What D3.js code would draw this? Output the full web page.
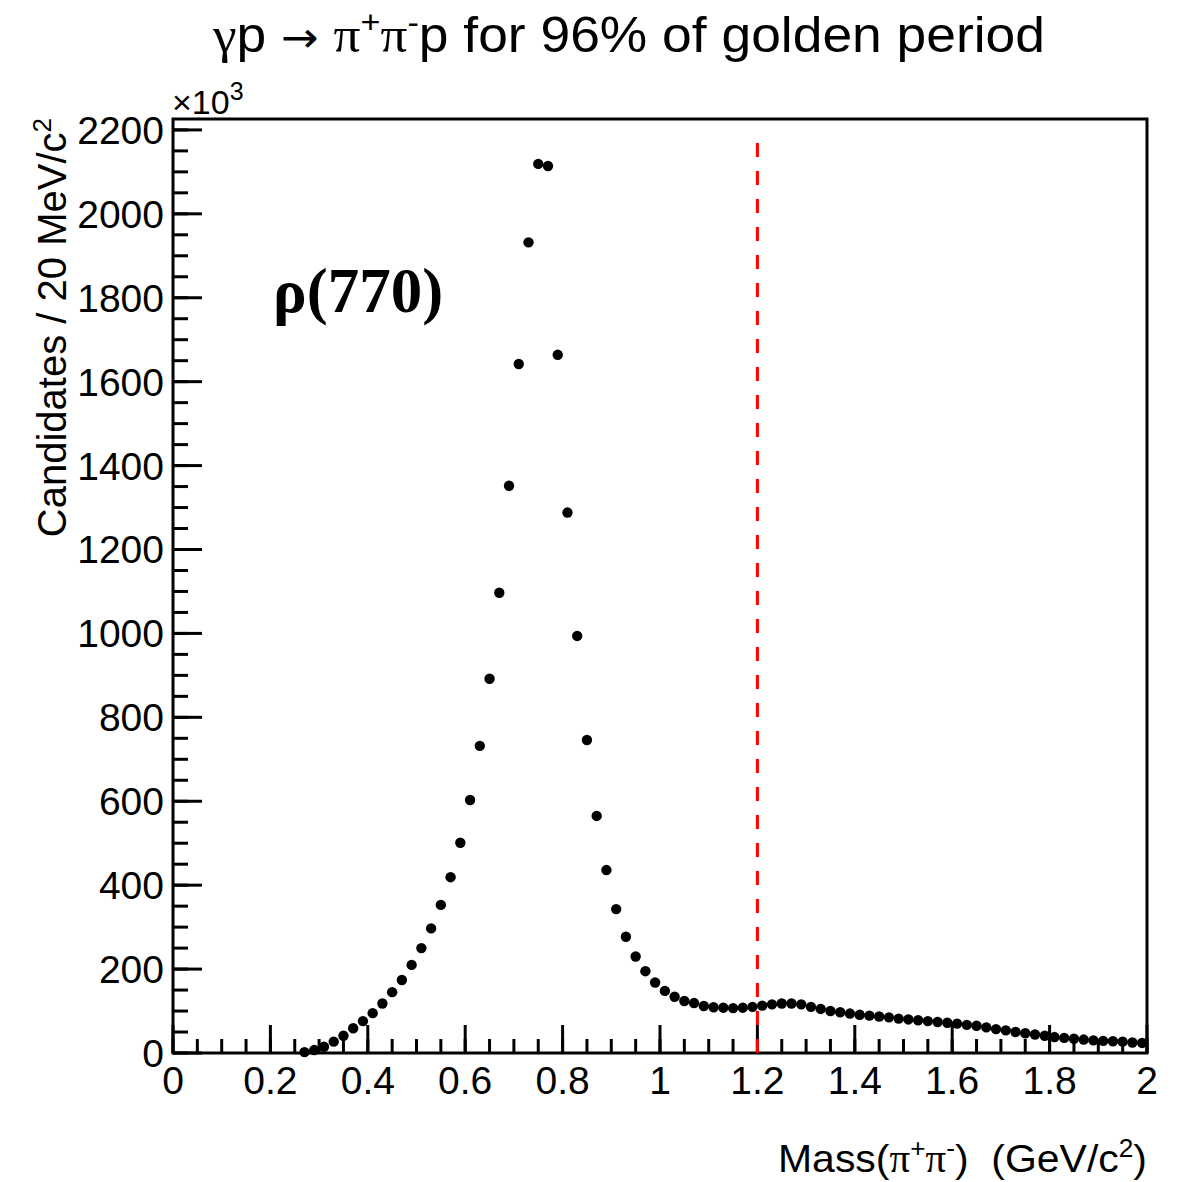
<!DOCTYPE html>
<html>
<head>
<meta charset="utf-8">
<script src="https://cdn.jsdelivr.net/npm/d3@7"></script>
<style>
  html, body { margin: 0; padding: 0; background: #fff; }
  svg { display: block; }
  text { font-family: "Liberation Sans", Arial, Helvetica, sans-serif; fill: #000; white-space: pre; }
  .greek { font-family: "Liberation Serif", "Times New Roman", serif; }
</style>
</head>
<body>
<svg id="chart" width="1184" height="1182"></svg>
<script>
// pi+ pi- invariant mass: bin centres (GeV/c^2) and candidates per 20 MeV/c^2 (x10^3)
const massCenters = [
  0.27, 0.29, 0.31, 0.33, 0.35, 0.37, 0.39, 0.41, 0.43, 0.45,
  0.47, 0.49, 0.51, 0.53, 0.55, 0.57, 0.59, 0.61, 0.63, 0.65,
  0.67, 0.69, 0.71, 0.73, 0.75, 0.77, 0.79, 0.81, 0.83, 0.85,
  0.87, 0.89, 0.91, 0.93, 0.95, 0.97, 0.99, 1.01, 1.03, 1.05,
  1.07, 1.09, 1.11, 1.13, 1.15, 1.17, 1.19, 1.21, 1.23, 1.25,
  1.27, 1.29, 1.31, 1.33, 1.35, 1.37, 1.39, 1.41, 1.43, 1.45,
  1.47, 1.49, 1.51, 1.53, 1.55, 1.57, 1.59, 1.61, 1.63, 1.65,
  1.67, 1.69, 1.71, 1.73, 1.75, 1.77, 1.79, 1.81, 1.83, 1.85,
  1.87, 1.89, 1.91, 1.93, 1.95, 1.97, 1.99
];
const candidates = [
  2, 7, 15, 27, 41, 59, 76, 95, 118, 145,
  174, 210, 250, 297, 353, 419, 501, 603, 732, 892,
  1097, 1352, 1642, 1932, 2119, 2114, 1664, 1288, 994, 746,
  565, 436, 343, 277, 230, 195, 168, 148, 134, 124,
  119, 112, 109, 108, 107, 108, 110, 113, 116, 118,
  118, 116, 110, 105, 100, 97, 94, 91, 89, 87,
  85, 82, 80, 78, 76, 74, 72, 70, 67, 65,
  61, 57, 54, 50, 47, 44, 41, 38, 36, 34,
  32, 30, 29, 28, 27, 25, 24
];
const xTickValues = [0, 0.2, 0.4, 0.6, 0.8, 1, 1.2, 1.4, 1.6, 1.8, 2];
const yTickValues = [0, 200, 400, 600, 800, 1000, 1200, 1400, 1600, 1800, 2000, 2200];
const cutMass = 1.2;

const svg = d3.select("#chart");
const frame = { left: 173, right: 1147, top: 119, bottom: 1053 };

const x = d3.scaleLinear().domain([0, 2]).range([frame.left, frame.right]);
const y = d3.scaleLinear().domain([0, 2226]).range([frame.bottom, frame.top]);

// minor ticks (4 subdivisions per major interval)
const xMinor = d3.range(0, 2.0001, 0.05).map(v => +v.toFixed(2));
const yMinor = d3.range(0, 2200.1, 50);

const gx = svg.append("g").attr("transform", `translate(0,${frame.bottom})`);
gx.selectAll("line.minor").data(xMinor).join("line")
  .attr("x1", d => x(d)).attr("x2", d => x(d))
  .attr("y1", 0).attr("y2", -14)
  .attr("stroke", "#000").attr("stroke-width", 3);
gx.selectAll("line.major").data(xTickValues).join("line")
  .attr("x1", d => x(d)).attr("x2", d => x(d))
  .attr("y1", 0).attr("y2", -28)
  .attr("stroke", "#000").attr("stroke-width", 3);
gx.selectAll("text").data(xTickValues).join("text")
  .attr("x", d => x(d)).attr("y", 41)
  .attr("text-anchor", "middle")
  .style("font-size", "39px")
  .text(d => d3.format("~g")(d));

const gy = svg.append("g").attr("transform", `translate(${frame.left},0)`);
gy.selectAll("line.minor").data(yMinor).join("line")
  .attr("y1", d => y(d)).attr("y2", d => y(d))
  .attr("x1", 0).attr("x2", 15)
  .attr("stroke", "#000").attr("stroke-width", 3);
gy.selectAll("line.major").data(yTickValues).join("line")
  .attr("y1", d => y(d)).attr("y2", d => y(d))
  .attr("x1", 0).attr("x2", 29)
  .attr("stroke", "#000").attr("stroke-width", 3);
gy.selectAll("text").data(yTickValues).join("text")
  .attr("x", -9).attr("y", d => y(d) + 14)
  .attr("text-anchor", "end")
  .style("font-size", "39px")
  .text(d => d);

// frame
svg.append("rect")
  .attr("x", frame.left).attr("y", frame.top)
  .attr("width", frame.right - frame.left).attr("height", frame.bottom - frame.top)
  .attr("fill", "none").attr("stroke", "#000").attr("stroke-width", 3);

// cut line
svg.append("line")
  .attr("x1", x(cutMass)).attr("x2", x(cutMass))
  .attr("y1", y(0)).attr("y2", y(2190))
  .attr("stroke", "#ff0000").attr("stroke-width", 3)
  .attr("stroke-dasharray", "14,14");

// data points
svg.append("g").selectAll("circle").data(massCenters).join("circle")
  .attr("cx", d => x(d))
  .attr("cy", (d, i) => y(candidates[i]))
  .attr("r", 5.2)
  .attr("fill", "#000");

// exponent label
const expo = svg.append("text").attr("x", 172).attr("y", 114).style("font-size", "34px");
expo.append("tspan").text("×10");
expo.append("tspan").attr("dy", -14).style("font-size", "25px").text("3");

// title
const title = svg.append("text").attr("x", 213).attr("y", 52)
  .attr("textLength", 832).attr("lengthAdjust", "spacingAndGlyphs")
  .style("font-size", "50px");
title.append("tspan").attr("class", "greek").text("γ");
title.append("tspan").text("p ");
title.append("tspan").style("font-family", "'DejaVu Sans', sans-serif").style("font-size", "42px").text("→");
title.append("tspan").text(" ");
title.append("tspan").attr("class", "greek").text("π");
title.append("tspan").attr("dy", -19).style("font-size", "32px").text("+");
title.append("tspan").attr("class", "greek").attr("dy", 19).text("π");
title.append("tspan").attr("dy", -19).style("font-size", "32px").text("-");
title.append("tspan").attr("dy", 19).text("p for 96% of golden period");

// x axis title
const xt = svg.append("text").attr("x", 778).attr("y", 1172)
  .attr("textLength", 369).attr("lengthAdjust", "spacingAndGlyphs")
  .style("font-size", "39px");
xt.append("tspan").text("Mass(");
xt.append("tspan").attr("class", "greek").text("π");
xt.append("tspan").attr("dy", -15).style("font-size", "25px").text("+");
xt.append("tspan").attr("class", "greek").attr("dy", 15).text("π");
xt.append("tspan").attr("dy", -15).style("font-size", "25px").text("-");
xt.append("tspan").attr("dy", 15).text(")  (GeV/c");
xt.append("tspan").attr("dy", -15).style("font-size", "25px").text("2");
xt.append("tspan").attr("dy", 15).text(")");

// y axis title
const yt = svg.append("text")
  .attr("transform", "translate(66,118) rotate(-90)")
  .attr("text-anchor", "end").style("font-size", "40px");
yt.append("tspan").text("Candidates / 20 MeV/c");
yt.append("tspan").attr("dy", -15).style("font-size", "26px").text("2");

// resonance label
svg.append("text").attr("x", 273).attr("y", 312)
  .style("font-family", "'Liberation Serif', 'Times New Roman', serif")
  .style("font-weight", "bold").style("font-size", "63px")
  .text("ρ(770)");
</script>
</body>
</html>
